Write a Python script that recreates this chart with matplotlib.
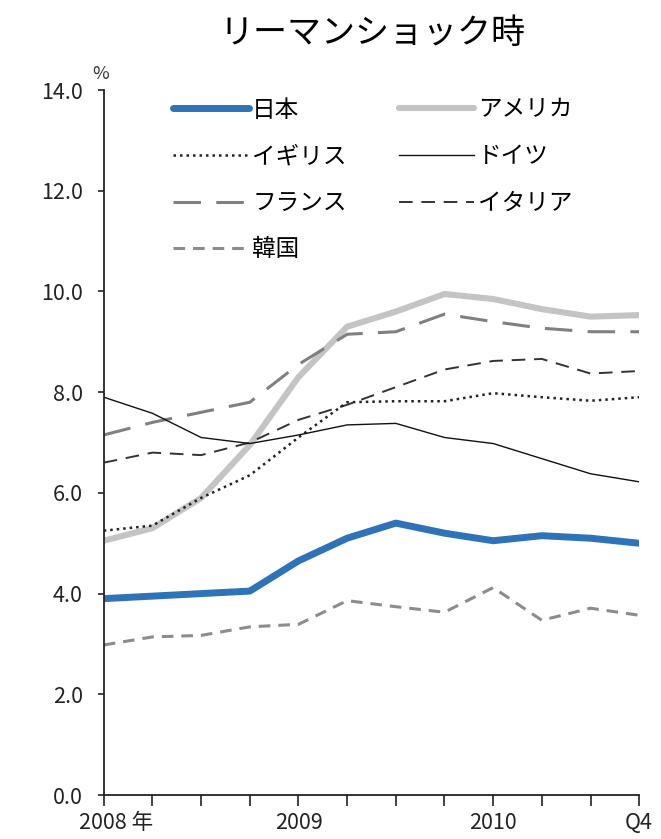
import numpy as np
import matplotlib
matplotlib.use("Agg")
import matplotlib.pyplot as plt
import matplotlib.transforms as mtransforms

plt.rcParams['font.family'] = ['Noto Sans CJK JP', 'DejaVu Sans']

# quarters 2008 Q1 .. 2010 Q4
quarters = list(range(12))
tick_labels = ["2008 年", "", "", "", "2009", "", "", "", "2010", "", "", "Q4"]

japan   = [3.90, 3.95, 4.00, 4.05, 4.65, 5.10, 5.40, 5.20, 5.05, 5.15, 5.10, 5.00]
usa     = [5.05, 5.30, 5.90, 6.95, 8.30, 9.30, 9.60, 9.95, 9.85, 9.65, 9.50, 9.53]
uk      = [5.25, 5.35, 5.90, 6.35, 7.10, 7.80, 7.82, 7.82, 7.98, 7.90, 7.83, 7.90]
germany = [7.90, 7.58, 7.10, 6.98, 7.15, 7.35, 7.38, 7.10, 6.98, 6.68, 6.38, 6.22]
france  = [7.15, 7.40, 7.60, 7.80, 8.55, 9.15, 9.20, 9.55, 9.40, 9.27, 9.20, 9.20]
italy   = [6.60, 6.80, 6.75, 7.00, 7.45, 7.75, 8.10, 8.45, 8.62, 8.66, 8.37, 8.42]
korea   = [2.98, 3.14, 3.17, 3.34, 3.39, 3.86, 3.74, 3.63, 4.12, 3.47, 3.71, 3.57]

fig = plt.figure(figsize=(6.61, 8.39), dpi=100)
ax = fig.add_axes([0.157, 0.0524, 0.81, 0.8403])

l_jp, = ax.plot(quarters, japan, color='#2e72b8', lw=5, solid_capstyle='round', label='日本', zorder=5)
l_us, = ax.plot(quarters, usa, color='#c4c4c4', lw=4.4, solid_capstyle='round', label='アメリカ', zorder=2)
l_uk, = ax.plot(quarters, uk, color='#222222', lw=1.8, linestyle=(0, (1, 1.6)), label='イギリス', zorder=4)
l_de, = ax.plot(quarters, germany, color='#111111', lw=1.0, label='ドイツ', zorder=4)
l_fr, = ax.plot(quarters, france, color='#808080', lw=2.2, linestyle=(0, (9, 5)), label='フランス', zorder=3)
l_it, = ax.plot(quarters, italy, color='#333333', lw=1.4, linestyle=(0, (7, 4.5)), label='イタリア', zorder=3)
l_kr, = ax.plot(quarters, korea, color='#8c8c8c', lw=2.2, linestyle=(0, (3.8, 2.6)), label='韓国', zorder=3)

ax.set_xlim(0, 11)
ax.set_ylim(0, 14)
ax.set_yticks(np.arange(0, 15, 2))
ax.set_yticklabels(["%.1f" % v for v in np.arange(0, 15, 2)])
ax.set_xticks(quarters)
ax.set_xticklabels(tick_labels)

for s in ['top', 'right']:
    ax.spines[s].set_visible(False)
for s in ['left', 'bottom']:
    ax.spines[s].set_linewidth(1.3)
    ax.spines[s].set_color('#222222')
ax.spines['left'].set_zorder(10)
ax.spines['bottom'].set_zorder(10)

ax.tick_params(axis='y', direction='out', length=4, width=1.2, labelsize=15.5, pad=11, colors='#222222')
ax.tick_params(axis='x', direction='out', length=8, width=1.2, labelsize=15.5, pad=4, colors='#222222')

# nudge first x label to the right, like the original
first = ax.get_xticklabels()[0]
first.set_transform(first.get_transform() + mtransforms.ScaledTranslation(0.12, 0, fig.dpi_scale_trans))

ax.text(-0.006, 1.01, '%', transform=ax.transAxes, fontsize=13, ha='center', va='bottom', color='#333333')

fig.text(0.563, 0.96, 'リーマンショック時', fontsize=24.5, ha='center', va='center')

handles = [l_jp, l_uk, l_fr, l_kr, l_us, l_de, l_it]
leg = ax.legend(handles=handles, labels=[h.get_label() for h in handles], ncol=2,
                loc='upper left', bbox_to_anchor=(0.09, 1.018), frameon=False,
                fontsize=17, handlelength=3.2, handletextpad=0.15,
                columnspacing=2.2, labelspacing=1.0)

fig.savefig('out.png', dpi=100)
